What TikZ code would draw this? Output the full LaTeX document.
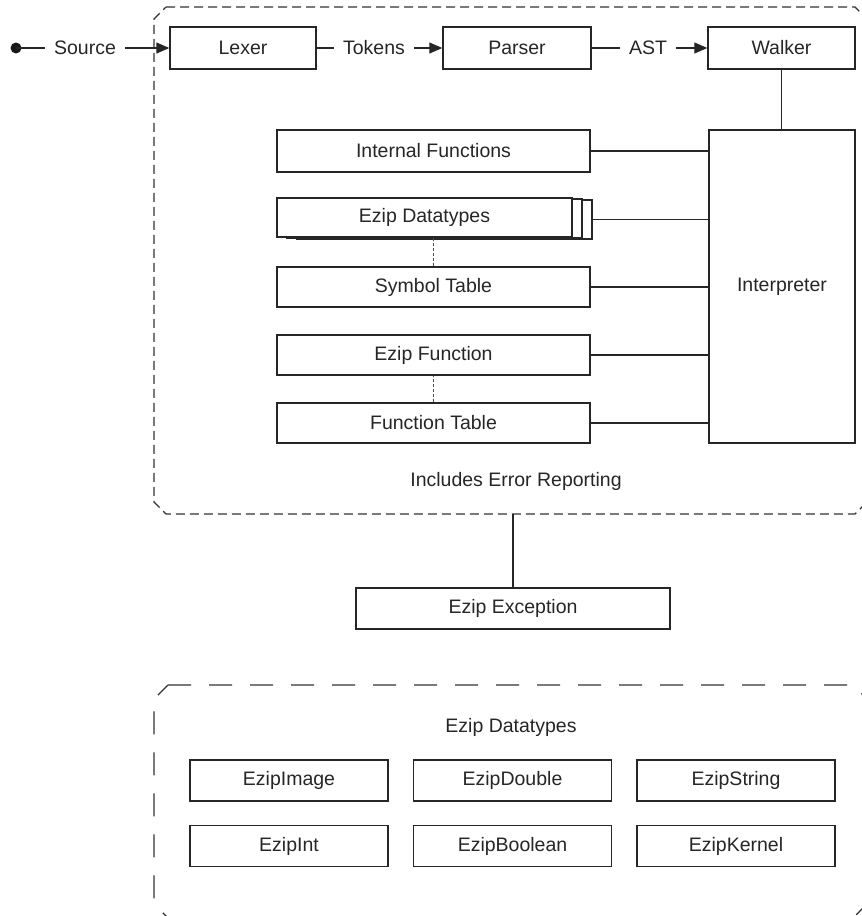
\documentclass[tikz,border=0pt]{standalone}
\usepackage{fontspec}
\setmainfont{Liberation Sans}
\usetikzlibrary{arrows.meta}
\tikzset{
  every node/.style={font=\fontsize{19.5}{23}\selectfont, text=black!85},
  box/.style={draw=black!85, line width=1.4pt, fill=white, inner sep=0pt},
  lbl/.style={inner xsep=9pt, inner ysep=2pt},
  conn/.style={draw=black!85, line width=1.2pt},
  arr/.style={conn, -{Triangle[length=13pt,width=11pt]}},
  dotconn/.style={draw=black!70, line width=1.1pt, dash pattern=on 3pt off 2pt},
  region/.style={draw=black!80, line width=1.3pt, dash pattern=on 9pt off 5pt},
  region2/.style={draw=black!80, line width=1.3pt, dash pattern=on 23pt off 18pt},
}
\begin{document}
\begin{tikzpicture}[x=1pt, y=-1pt]
\useasboundingbox (0,0) rectangle (862,916);
% region outlines
\draw[region] (166,7) -- (855,7) -- (867,19) -- (867,502) -- (855,514) -- (166,514) -- (154,502) -- (154,19) -- cycle;
\draw[region2] (168,685) -- (853,685) -- (867,699) -- (867,904) -- (853,918) -- (168,918) -- (154,904) -- (154,699) -- cycle;
% pipeline
\coordinate (start) at (16,48);
\fill[black!90] (start) circle (5.5pt);
\node[lbl] (src) at (85,48) {Source};
\node[box, minimum width=146, minimum height=42] (lexer) at (243,48) {Lexer};
\node[lbl] (tok) at (374,48) {Tokens};
\node[box, minimum width=148, minimum height=42] (parser) at (517,48) {Parser};
\node[lbl] (ast) at (648,48) {AST};
\node[box, minimum width=147, minimum height=42] (walker) at (781.5,48) {Walker};
\draw[conn] (start) -- (src.west);
\draw[arr] (src.east) -- (lexer.west);
\draw[conn] (lexer.east) -- (tok.west);
\draw[arr] (tok.east) -- (parser.west);
\draw[conn] (parser.east) -- (ast.west);
\draw[arr] (ast.east) -- (walker.west);
% interpreter
\node[box, minimum width=146, minimum height=313] (interp) at (782,286.5) {Interpreter};
\draw[conn] (walker.south) -- (walker.south |- interp.north);
% left column
\node[box, minimum width=313, minimum height=42] (internal) at (433.5,151) {Internal Functions};
\node[box, minimum width=295, minimum height=39] (dt2) at (444.5,219.5) {};
\node[box, minimum width=295, minimum height=39] (dt1) at (434.5,218.5) {};
\node[box, minimum width=295, minimum height=39] (dt) at (424.5,217.5) {Ezip Datatypes};
\node[box, minimum width=313, minimum height=40] (symbol) at (433.5,287) {Symbol Table};
\node[box, minimum width=313, minimum height=40] (efunc) at (433.5,355) {Ezip Function};
\node[box, minimum width=313, minimum height=40] (ftable) at (433.5,423) {Function Table};
\draw[conn] (internal.east) -- (internal.east -| interp.west);
\draw[conn] (dt2.east) -- (dt2.east -| interp.west);
\draw[conn] (symbol.east) -- (symbol.east -| interp.west);
\draw[conn] (efunc.east) -- (efunc.east -| interp.west);
\draw[conn] (ftable.east) -- (ftable.east -| interp.west);
\draw[dotconn] (symbol.north) -- (symbol.north |- dt.south);
\draw[dotconn] (ftable.north) -- (efunc.south);
\node (err) at (516,481) {Includes Error Reporting};
% exception
\coordinate (regbot) at (513,514);
\node[box, minimum width=314, minimum height=41] (exc) at (513,608.5) {Ezip Exception};
\draw[conn] (regbot) -- (exc.north);
% datatypes legend
\node (dtlabel) at (511,727) {Ezip Datatypes};
\node[box, minimum width=198, minimum height=41] (eimg) at (289,780.5) {EzipImage};
\node[box, minimum width=198, minimum height=41] (edbl) at (512.5,780.5) {EzipDouble};
\node[box, minimum width=198, minimum height=41] (estr) at (736,780.5) {EzipString};
\node[box, minimum width=198, minimum height=41] (eint) at (289,846) {EzipInt};
\node[box, minimum width=198, minimum height=41] (ebool) at (512.5,846) {EzipBoolean};
\node[box, minimum width=198, minimum height=41] (ekern) at (736,846) {EzipKernel};
\end{tikzpicture}
\end{document}
